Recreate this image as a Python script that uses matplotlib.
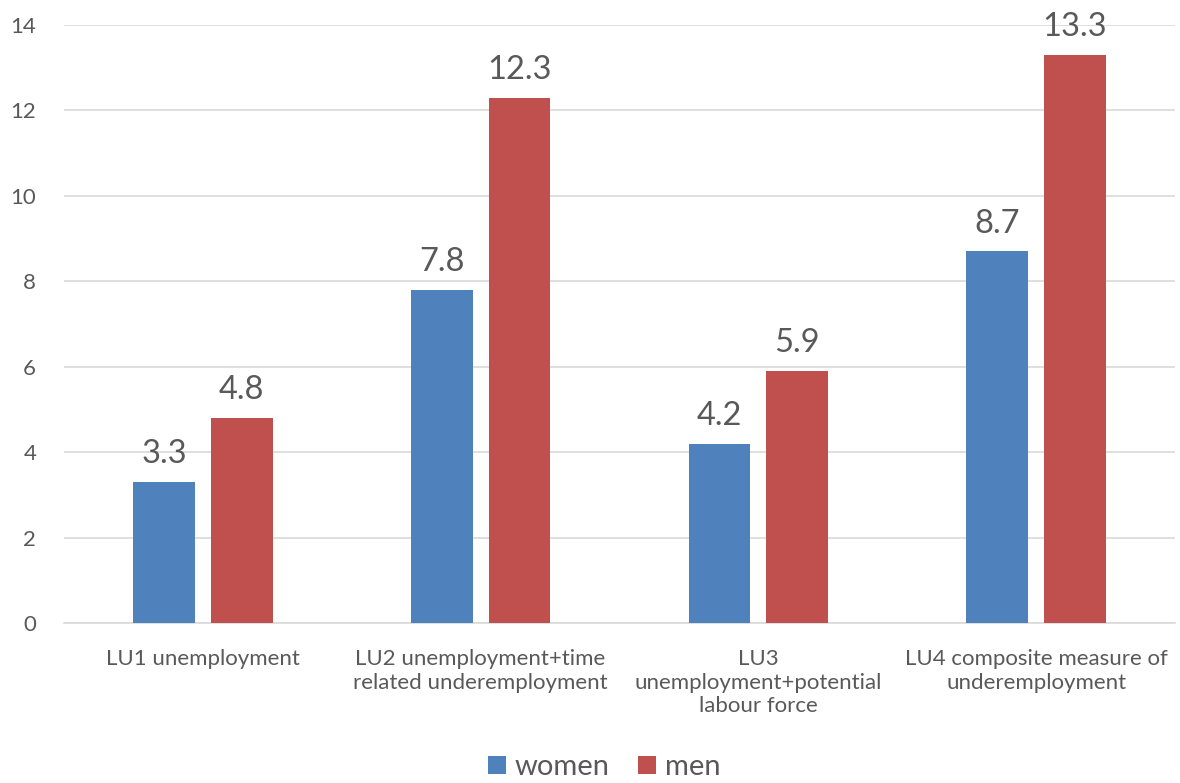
import matplotlib
matplotlib.use("Agg")
import matplotlib.pyplot as plt
import numpy as np

categories = [
    "LU1 unemployment",
    "LU2 unemployment+time\nrelated underemployment",
    "LU3\nunemployment+potential\nlabour force",
    "LU4 composite measure of\nunderemployment",
]
women = [3.3, 7.8, 4.2, 8.7]
men = [4.8, 12.3, 5.9, 13.3]
yticks = [0, 2, 4, 6, 8, 10, 12, 14]

plt.rcParams["font.family"] = ["Lato", "DejaVu Sans"]
text_color = "#595959"
blue = "#4F81BD"
red = "#C0504D"

fig = plt.figure(figsize=(11.8, 7.83), dpi=100)
ax = fig.add_axes([0.0542, 0.2043, 0.9416, 0.7637])

x = np.arange(len(categories))
width = 0.223
offset = 0.14
b1 = ax.bar(x - offset, women, width, color=blue, label="women", zorder=3)
b2 = ax.bar(x + offset, men, width, color=red, label="men", zorder=3)

for bars, vals in ((b1, women), (b2, men)):
    for rect, v in zip(bars, vals):
        ax.text(rect.get_x() + rect.get_width() / 2, v + 0.3, f"{v:.1f}",
                ha="center", va="bottom", fontsize=23.5, color=text_color)

ax.set_xlim(-0.5, len(categories) - 0.5)
ax.set_ylim(0, 14)
ax.set_yticks(yticks)
ax.set_yticklabels([str(t) for t in yticks], fontsize=16, color=text_color)
ax.set_xticks(x)
ax.set_xticklabels(categories, fontsize=16, color=text_color, linespacing=1.2, va="top")
ax.tick_params(axis="both", length=0)
ax.tick_params(axis="x", pad=19)
ax.tick_params(axis="y", pad=20)
ax.grid(axis="y", color="#D9D9D9", linewidth=1.2, zorder=0)
for s in ("top", "right", "left"):
    ax.spines[s].set_visible(False)
ax.spines["bottom"].set_color("#D9D9D9")
ax.spines["bottom"].set_linewidth(1.2)

leg = fig.legend(handles=[b1, b2], labels=["women", "men"], loc="lower center",
                 bbox_to_anchor=(0.512, -0.03), ncol=2, frameon=False, fontsize=21,
                 handlelength=0.62, handleheight=0.62, handletextpad=0.3, columnspacing=0.95)
for t in leg.get_texts():
    t.set_color(text_color)

fig.savefig("out.png", dpi=100, facecolor="white")
